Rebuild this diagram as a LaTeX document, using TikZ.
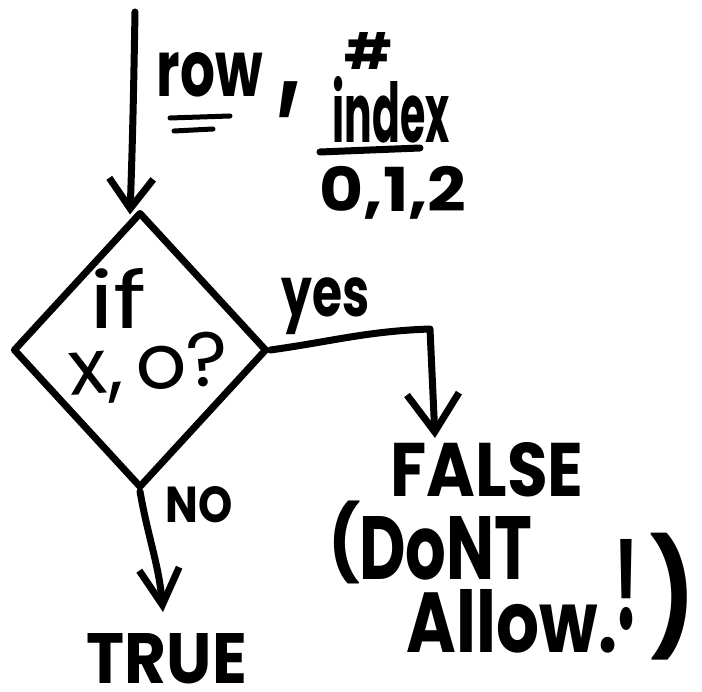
\documentclass[tikz,border=0pt]{standalone}
\usepackage{fontspec}
\setmainfont{Poppins}
\usepackage{graphicx}
\usetikzlibrary{arrows.meta,shapes.geometric}
\newcommand{\hwbox}[3]{\resizebox{#1}{#2}{\bfseries #3}}
\newcommand{\hwboxt}[3]{\resizebox*{#1}{#2}{\bfseries #3}}
\newcommand{\hwboxm}[3]{\resizebox{#1}{#2}{#3}}
\tikzset{
  ink/.style={line width=7pt, line cap=round, line join=round, black},
  thinink/.style={line width=5pt, line cap=round, line join=round, black},
  lbl/.style={inner sep=0pt, outer sep=0pt, anchor=center},
  barbA/.style={-{Straight Barb[length=30pt,width=44pt,line width=7pt]}},
  barbB/.style={-{Straight Barb[length=38pt,width=52pt,line width=7pt]}},
  barbC/.style={-{Straight Barb[length=36pt,width=40pt,line width=7pt]}},
  decision/.style={diamond, draw, line width=7pt, line join=round, inner sep=0pt, minimum width=254pt, minimum height=276pt}
}
\begin{document}
\begin{tikzpicture}[x=1pt,y=-1pt]
\useasboundingbox (0,0) rectangle (702,692);
% decision diamond
\node[decision] (dia) at (140,350) {};
\node[lbl] (iftxt) at (118,298) {\hwboxm{58pt}{60pt}{if}};
\node[lbl, rotate=4, anchor=base] (cond) at (150,390) {\hwboxm{160pt}{54pt}{x,\,o?}};
% incoming arrow
\coordinate (start) at (135,12);
\draw[ink, barbA] (start) to[out=-91,in=88] ([xshift=-10pt,yshift=-6pt]dia.north);
% input labels
\node[lbl] (row) at (210,75) {\hwbox{106pt}{44pt}{row}};
\coordinate (ru1a) at (170,118); \coordinate (ru1b) at (230,116);
\coordinate (ru2a) at (174,131); \coordinate (ru2b) at (213,129);
\draw[thinink] (ru1a) -- (ru1b);
\draw[thinink] (ru2a) -- (ru2b);
\node[lbl] (comma) at (290,100) {\hwboxt{24pt}{36pt}{,}};
\node[lbl] (hash) at (368,51) {\hwboxt{48pt}{37pt}{\#}};
\node[lbl] (index) at (391,110) {\hwbox{117pt}{66pt}{index}};
\coordinate (iua) at (320,152); \coordinate (iub) at (420,148);
\draw[ink] (iua) -- (iub);
\node[lbl] (vals) at (393,193) {\hwboxt{147pt}{53pt}{0,1,2}};
% yes branch
\node[lbl] (yes) at (326,306) {\hwboxt{88pt}{57pt}{yes}};
\coordinate (corner) at (430,329);
\node[lbl] (false) at (487,470) {\hwbox{193pt}{54pt}{FALSE}};
\coordinate (ftip) at (435,438);
\draw[ink, barbB] (dia.east) to[out=8,in=182] (corner) -- (ftip);
\node[lbl] (lpar) at (344,542) {\hwboxt{32pt}{83pt}{(}};
\node[lbl] (dont) at (446,548) {\hwbox{173pt}{63pt}{DoNT}};
\node[lbl] (allow) at (512,621) {\hwbox{210pt}{63pt}{Allow.}};
\node[lbl] (excl) at (626,585) {\hwbox{24pt}{90pt}{!}};
\node[lbl] (rpar) at (673,597) {\hwboxt{45pt}{127pt}{)}};
% no branch
\node[lbl] (no) at (199,505) {\hwbox{67pt}{36pt}{NO}};
\node[lbl] (true) at (167,659) {\hwbox{160pt}{50pt}{TRUE}};
\coordinate (ttip) at (163,612);
\draw[ink, barbC] (dia.south) to[out=-80,in=95] (ttip);
\end{tikzpicture}
\end{document}
